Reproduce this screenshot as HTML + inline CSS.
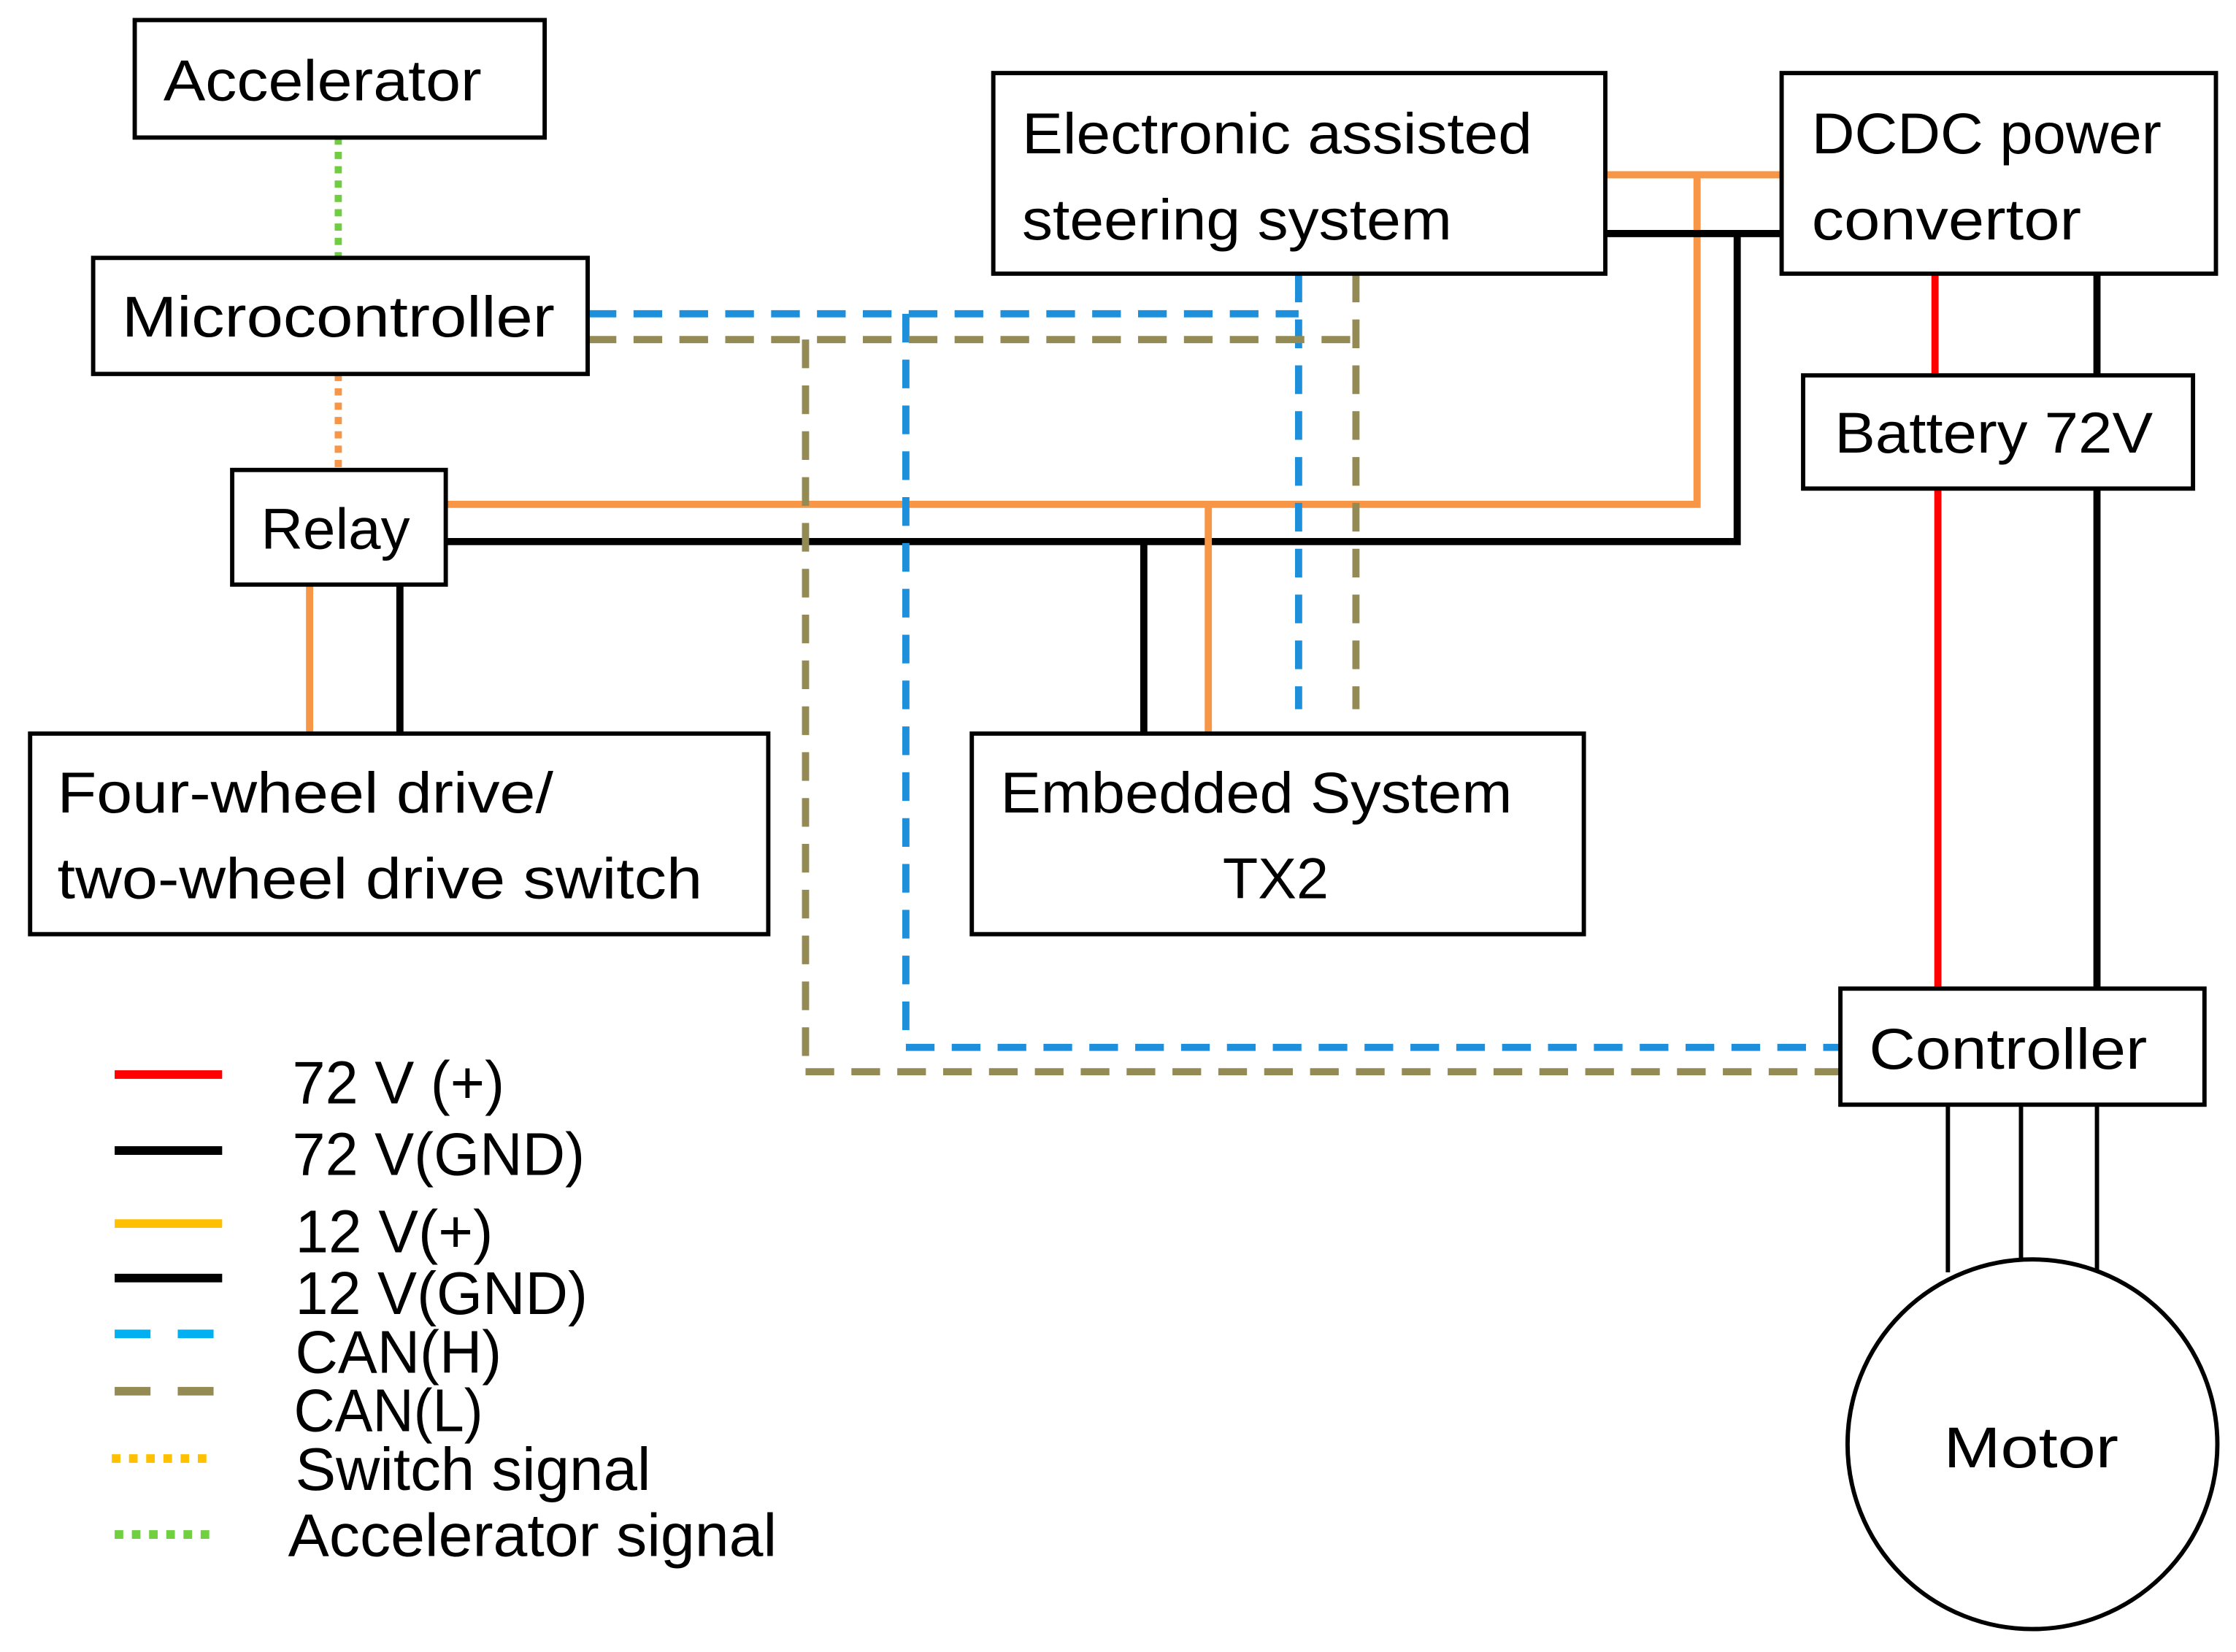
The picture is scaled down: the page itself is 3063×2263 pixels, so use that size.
<!DOCTYPE html>
<html><head><style>html,body{margin:0;padding:0;background:#fff}svg{display:block}</style></head>
<body>
<svg width="3063" height="2263" viewBox="0 0 1560 1153" preserveAspectRatio="none" xmlns="http://www.w3.org/2000/svg">
<rect width="1560" height="1153" fill="#fff"/>
<g fill="none" stroke-width="5">
<line x1="236" y1="96" x2="236" y2="180" stroke="#70CC40" stroke-dasharray="5,5"/>
<line x1="236" y1="261" x2="236" y2="328" stroke="#F79646" stroke-dasharray="5,5"/>
<polyline points="311,352 1184,352 1184,122 1120,122 1243,122" stroke="#F79646"/>
<polyline points="311,378 1212,378 1212,163 1120,163 1243,163" stroke="#000"/>
<line x1="843" y1="352" x2="843" y2="512" stroke="#F79646"/>
<line x1="798" y1="378" x2="798" y2="512" stroke="#000"/>
<line x1="216" y1="408" x2="216" y2="512" stroke="#F79646"/>
<line x1="279" y1="408" x2="279" y2="512" stroke="#000"/>
<g stroke="#1E8FDB" stroke-dasharray="20,12">
<line x1="410" y1="219" x2="906" y2="219"/>
<line x1="906" y1="191" x2="906" y2="495"/>
<line x1="632" y1="219" x2="632" y2="731"/>
<line x1="632" y1="731" x2="1284" y2="731"/>
</g>
<g stroke="#948A54" stroke-dasharray="20,12">
<line x1="410" y1="237" x2="946" y2="237"/>
<line x1="946" y1="191" x2="946" y2="495"/>
<line x1="562" y1="237" x2="562" y2="748"/>
<line x1="562" y1="748" x2="1284" y2="748"/>
</g>
<line x1="1350" y1="191" x2="1350" y2="262" stroke="#F00"/>
<line x1="1352" y1="341" x2="1352" y2="690" stroke="#F00"/>
<line x1="1463" y1="191" x2="1463" y2="262" stroke="#000"/>
<line x1="1463" y1="341" x2="1463" y2="690" stroke="#000"/>
<g stroke="#000" stroke-width="3">
<line x1="1359" y1="771" x2="1359" y2="888"/>
<line x1="1410" y1="771" x2="1410" y2="880"/>
<line x1="1463" y1="771" x2="1463" y2="886"/>
</g>
<g stroke="#000" stroke-width="3" fill="#fff">
<rect x="94" y="14" width="286" height="82"/>
<rect x="65" y="180" width="345" height="81"/>
<rect x="162" y="328" width="149" height="80"/>
<rect x="21" y="512" width="515" height="140"/>
<rect x="693" y="51" width="427" height="140"/>
<rect x="1243" y="51" width="303" height="140"/>
<rect x="1258" y="262" width="272" height="79"/>
<rect x="678" y="512" width="427" height="140"/>
<rect x="1284" y="690" width="254" height="81"/>
<circle cx="1418" cy="1008" r="129"/>
</g>
<line x1="80" y1="750" x2="155" y2="750" stroke="#F00" stroke-width="6"/>
<line x1="80" y1="803" x2="155" y2="803" stroke="#000" stroke-width="6"/>
<line x1="80" y1="854" x2="155" y2="854" stroke="#FFC000" stroke-width="6"/>
<line x1="80" y1="892" x2="155" y2="892" stroke="#000" stroke-width="6"/>
<line x1="80" y1="931" x2="155" y2="931" stroke="#00B0F0" stroke-width="6" stroke-dasharray="25,19"/>
<line x1="80" y1="971" x2="155" y2="971" stroke="#948A54" stroke-width="6" stroke-dasharray="25,19"/>
<line x1="78" y1="1018" x2="148" y2="1018" stroke="#FFC000" stroke-width="6" stroke-dasharray="6,6"/>
<line x1="80" y1="1071" x2="152" y2="1071" stroke="#70D040" stroke-width="6" stroke-dasharray="6,6"/>
</g>
<g font-family="'Liberation Sans', sans-serif" font-size="40" fill="#000" textLength="">
<text x="114" y="70" textLength="222" lengthAdjust="spacingAndGlyphs">Accelerator</text>
<text x="85" y="235" textLength="302" lengthAdjust="spacingAndGlyphs">Microcontroller</text>
<text x="182" y="383" textLength="104" lengthAdjust="spacingAndGlyphs">Relay</text>
<text x="40" y="567" textLength="346" lengthAdjust="spacingAndGlyphs">Four-wheel drive/</text>
<text x="40" y="627" textLength="450" lengthAdjust="spacingAndGlyphs">two-wheel drive switch</text>
<text x="713" y="107" textLength="356" lengthAdjust="spacingAndGlyphs">Electronic assisted</text>
<text x="713" y="167" textLength="300" lengthAdjust="spacingAndGlyphs">steering system</text>
<text x="1264" y="107" textLength="244" lengthAdjust="spacingAndGlyphs">DCDC power</text>
<text x="1264" y="167" textLength="188" lengthAdjust="spacingAndGlyphs">convertor</text>
<text x="1280" y="316" textLength="222" lengthAdjust="spacingAndGlyphs">Battery 72V</text>
<text x="698" y="567" textLength="357" lengthAdjust="spacingAndGlyphs">Embedded System</text>
<text x="853" y="627" textLength="74" lengthAdjust="spacingAndGlyphs">TX2</text>
<text x="1304" y="746" textLength="194" lengthAdjust="spacingAndGlyphs">Controller</text>
<text x="1356" y="1024" textLength="122" lengthAdjust="spacingAndGlyphs">Motor</text>
<g font-size="42">
<text x="204" y="770" textLength="148" lengthAdjust="spacingAndGlyphs">72 V (+)</text>
<text x="204" y="820" textLength="204" lengthAdjust="spacingAndGlyphs">72 V(GND)</text>
<text x="206" y="874" textLength="138" lengthAdjust="spacingAndGlyphs">12 V(+)</text>
<text x="206" y="917" textLength="204" lengthAdjust="spacingAndGlyphs">12 V(GND)</text>
<text x="206" y="958" textLength="144" lengthAdjust="spacingAndGlyphs">CAN(H)</text>
<text x="205" y="999" textLength="132" lengthAdjust="spacingAndGlyphs">CAN(L)</text>
<text x="206" y="1040" textLength="248" lengthAdjust="spacingAndGlyphs">Switch signal</text>
<text x="201" y="1086" textLength="341" lengthAdjust="spacingAndGlyphs">Accelerator signal</text>
</g>
</g>
</svg>
</body></html>
